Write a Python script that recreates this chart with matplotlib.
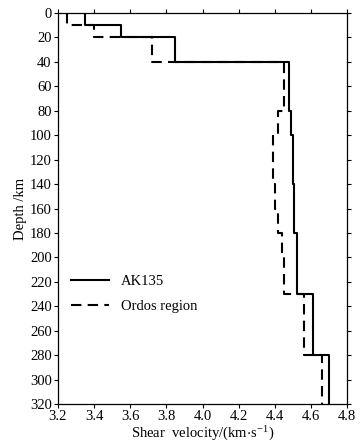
import matplotlib
matplotlib.use("Agg")
import matplotlib.pyplot as plt

# AK135 reference model (step profile)
ak135_depth = [0, 10, 20, 40, 80, 100, 140, 180, 230, 280, 320]
ak135_vs = [3.35, 3.55, 3.85, 4.48, 4.49, 4.50, 4.505, 4.52, 4.61, 4.70]

# Ordos region model
ordos_depth = [0, 10, 20, 40, 80, 100, 140, 160, 180, 200, 230, 280, 320]
ordos_vs = [3.25, 3.40, 3.72, 4.45, 4.42, 4.39, 4.40, 4.42, 4.44, 4.45, 4.56, 4.66]

x_ticks = [3.2, 3.4, 3.6, 3.8, 4.0, 4.2, 4.4, 4.6, 4.8]
y_ticks = list(range(0, 321, 20))

plt.rcParams["font.family"] = ["Liberation Serif", "DejaVu Serif"]
plt.rcParams["mathtext.fontset"] = "stix"


def steps(depth, vs):
    xs, ys = [], []
    for i, v in enumerate(vs):
        xs += [v, v]
        ys += [depth[i], depth[i + 1]]
    return xs, ys


fig = plt.figure(figsize=(3.62, 4.48), dpi=100)
ax = fig.add_axes([0.160, 0.098, 0.799, 0.873])

x, y = steps(ak135_depth, ak135_vs)
ax.plot(x, y, color="black", lw=1.5, label="AK135")
x, y = steps(ordos_depth, ordos_vs)
ax.plot(x, y, color="black", lw=1.5, ls=(0, (5, 3)), label="Ordos region")

ax.set_xlim(3.2, 4.8)
ax.set_ylim(320, 0)
ax.set_xticks(x_ticks)
ax.set_xticklabels([f"{t:.1f}" for t in x_ticks])
ax.set_yticks(y_ticks)
ax.tick_params(direction="out", length=3, width=0.8, labelsize=10.5,
               top=True, right=True, pad=1.5)
for s in ax.spines.values():
    s.set_linewidth(0.9)

ax.set_ylabel("Depth /km", fontsize=10.5, labelpad=2)
ax.set_xlabel(r"Shear  velocity/(km$\cdot$s$^{\mathregular{-1}}$)", fontsize=10.5, labelpad=0)

ax.legend(loc="lower left", bbox_to_anchor=(0.0, 0.2), frameon=False,
          fontsize=10.5, handlelength=2.6, labelspacing=0.8)

fig.savefig("out.png", dpi=100)
